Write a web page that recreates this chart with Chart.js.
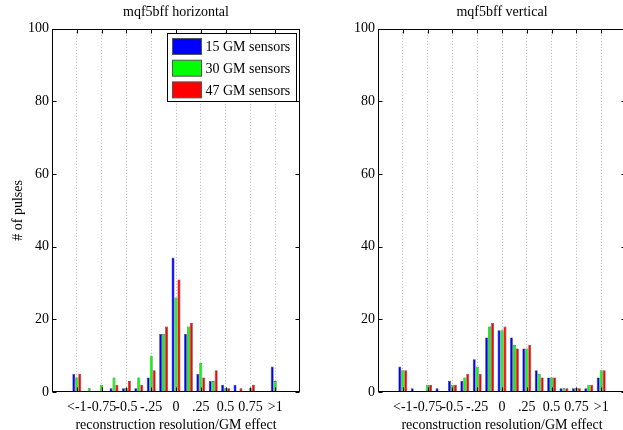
<!DOCTYPE html>
<html><head><meta charset="utf-8">
<script src="https://cdn.jsdelivr.net/npm/chart.js@4.4.0/dist/chart.umd.min.js"></script>
<style>
html,body{margin:0;padding:0;background:#fff;overflow:hidden;width:623px;height:430px;position:relative;}
canvas{position:absolute;top:0;}
#c1{left:0;} #c2{left:326px;}
</style></head><body>
<canvas id="c1" width="310" height="440"></canvas>
<canvas id="c2" width="310" height="440"></canvas>
<script>
// ---- data ----
const binCenters = [-1,-0.875,-0.75,-0.625,-0.5,-0.375,-0.25,-0.125,0,0.125,0.25,0.375,0.5,0.625,0.75,0.875,1];
const tickValues = [-1,-0.75,-0.5,-0.25,0,0.25,0.5,0.75,1];
const tickLabels = ['<-1','-0.75','-0.5','-.25','0','.25','0.5','0.75','>1'];
const yTickValues = [0,20,40,60,80,100];
const seriesNames = ['15 GM sensors','30 GM sensors','47 GM sensors'];
const seriesColors = ['#0000ff','#00ff00','#ff0000'];
const horiz15 = [5,0,0,1,1,1,4,16,37,16,5,3,2,2,0,0,7];
const horiz30 = [4,1,2,4,1,4,10,16,26,18,8,3,1,0,1,0,3];
const horiz47 = [5,0,0,2,3,2,6,18,31,19,4,6,1,1,2,0,0];
const vert15  = [7,1,0,1,3,3,9,15,17,15,12,6,4,1,1,1,4];
const vert30  = [6,0,2,0,2,4,7,18,17,13,12,5,4,1,1,2,6];
const vert47  = [6,0,2,0,2,5,5,19,18,12,13,4,4,1,1,2,6];
const panelTitles = ['mqf5bff horizontal','mqf5bff vertical'];
const xTitle = 'reconstruction resolution/GM effect';
const yTitle = '# of pulses';

const FONT = '"Liberation Serif","Times New Roman",serif';
Chart.defaults.font.family = FONT;
Chart.defaults.font.size = 14;
Chart.defaults.color = '#000';

const boxPlugin = {
  id: 'boxTicks',
  afterDatasetsDraw(chart) {
    const {ctx, chartArea: a, scales: {x, y}} = chart;
    const L = Math.round(a.left) + 0.5, R = Math.round(a.right) - 0.5;
    const T = Math.round(a.top) + 0.5, B = Math.round(a.bottom) - 0.5;
    ctx.save();
    ctx.strokeStyle = '#000';
    ctx.lineWidth = 1;
    ctx.beginPath();
    const tl = 4;
    tickValues.forEach(v => {
      const px = Math.round(x.getPixelForValue(v)) + 0.5;
      ctx.moveTo(px, B); ctx.lineTo(px, B - tl);
      ctx.moveTo(px, T); ctx.lineTo(px, T + tl);
    });
    yTickValues.forEach(v => {
      const py = Math.round(y.getPixelForValue(v)) + 0.5;
      ctx.moveTo(L, py); ctx.lineTo(L + tl, py);
      ctx.moveTo(R, py); ctx.lineTo(R - tl, py);
    });
    ctx.stroke();
    ctx.strokeRect(L, T, R - L, B - T);
    ctx.restore();
  }
};

const legendPlugin = {
  id: 'boxLegend',
  afterDraw(chart, args, opts) {
    if (!opts || !opts.show) return;
    const {ctx, chartArea: a} = chart;
    const w = 129, h = 68;
    const bx = Math.round(a.right) - 4 - w + 0.5, by = Math.round(a.top) + 4 + 0.5;
    ctx.save();
    ctx.fillStyle = '#fff';
    ctx.fillRect(bx, by, w, h);
    ctx.strokeStyle = '#000';
    ctx.lineWidth = 1;
    ctx.strokeRect(bx, by, w, h);
    ctx.font = '14px ' + FONT;
    ctx.textBaseline = 'middle';
    ctx.textAlign = 'left';
    chart.data.datasets.forEach((ds, i) => {
      const cy = by + 13 + i * 21.7;
      ctx.fillStyle = ds.backgroundColor;
      ctx.fillRect(bx + 5, cy - 8, 29, 16);
      ctx.strokeStyle = '#555';
      ctx.strokeRect(bx + 5, cy - 8, 29, 16);
      ctx.fillStyle = '#000';
      ctx.fillText(ds.label, bx + 38, cy + 1);
    });
    ctx.restore();
  }
};

function makeChart(id, title, series, showYTitle, showLegend) {
  const datasets = series.map((arr, i) => ({
    label: seriesNames[i],
    data: binCenters.map((c, j) => ({x: c, y: arr[j]})),
    backgroundColor: seriesColors[i],
    borderColor: 'rgba(0,0,0,0.75)',
    borderWidth: 0.6,
    categoryPercentage: 0.72,
    barPercentage: 1.0
  }));
  return new Chart(document.getElementById(id), {
    type: 'bar',
    data: {datasets},
    plugins: [boxPlugin, legendPlugin],
    options: {
      responsive: false,
      animation: false,
      layout: {padding: {left: 0, right: 10, top: 0, bottom: 0}},
      plugins: {
        legend: {display: false},
        tooltip: {enabled: false},
        title: {display: true, text: title, fullSize: false, color: '#000',
                font: {family: FONT, size: 14, weight: 'normal'},
                padding: {top: 4, bottom: 8}},
        boxLegend: {show: showLegend}
      },
      scales: {
        x: {
          type: 'linear', min: -1.25, max: 1.25, offset: false,
          afterBuildTicks: s => { s.ticks = tickValues.map(v => ({value: v})); },
          afterFit: s => { s.height = 48; },
          ticks: {autoSkip: false, maxRotation: 0, minRotation: 0, padding: 7, color: '#000',
                  font: {family: FONT, size: 14},
                  callback: v => tickLabels[tickValues.indexOf(v)]},
          grid: {display: true, offset: false, drawOnChartArea: true, drawTicks: false, color: '#b4b4b4', lineWidth: 1},
          border: {display: false, dash: [1, 2]},
          title: {display: true, text: xTitle, color: '#000', font: {family: FONT, size: 14},
                  padding: {top: 0, bottom: 6}}
        },
        y: {
          min: 0, max: 100,
          afterBuildTicks: s => { s.ticks = yTickValues.map(v => ({value: v})); },
          afterFit: s => { s.width = 52; },
          ticks: {padding: 3, color: '#000', font: {family: FONT, size: 14}},
          grid: {display: false, drawTicks: false},
          border: {display: false},
          title: {display: showYTitle, text: yTitle, color: '#000', font: {family: FONT, size: 14},
                  padding: {top: 10, bottom: 0}}
        }
      }
    }
  });
}

makeChart('c1', panelTitles[0], [horiz15, horiz30, horiz47], true, true);
makeChart('c2', panelTitles[1], [vert15, vert30, vert47], false, false);
</script>
</body></html>
